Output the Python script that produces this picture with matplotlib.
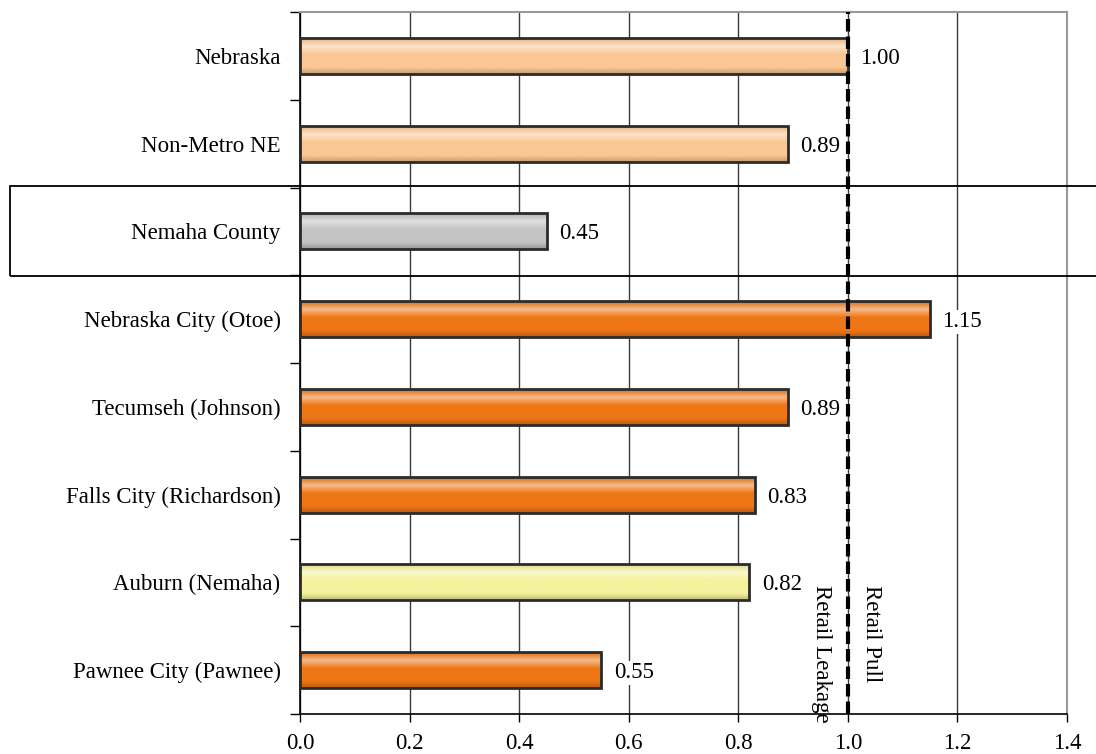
import numpy as np
import matplotlib
matplotlib.use('Agg')
import matplotlib.pyplot as plt
from matplotlib.patches import Rectangle
from matplotlib.colors import LinearSegmentedColormap

# Data, top to bottom as in the chart
places = ['Nebraska', 'Non-Metro NE', 'Nemaha County', 'Nebraska City (Otoe)',
          'Tecumseh (Johnson)', 'Falls City (Richardson)', 'Auburn (Nemaha)',
          'Pawnee City (Pawnee)']
pull_factor = [1.00, 0.89, 0.45, 1.15, 0.89, 0.83, 0.82, 0.55]
bar_colors = ['#FBC794', '#FBC794', '#C4C4C4', '#EF7615', '#EF7615',
              '#EF7615', '#F4F29C', '#EF7615']
x_ticks = [0.0, 0.2, 0.4, 0.6, 0.8, 1.0, 1.2, 1.4]

plt.rcParams['font.family'] = ['Liberation Serif', 'DejaVu Serif']
plt.rcParams['font.size'] = 16.5

fig = plt.figure(figsize=(10.96, 7.54), dpi=100)
ax = fig.add_axes([300 / 1096, 40 / 754, 767 / 1096, 702 / 754])

n = len(places)
ypos = np.arange(n)
bar_h = 0.41


def shade(hex_color):
    # light band near the top, darker towards the bottom edge
    c = np.array(matplotlib.colors.to_rgb(hex_color))
    light = np.clip(c + (1 - c) * 0.5, 0, 1)
    return LinearSegmentedColormap.from_list(
        'g', [(0, c * 0.9), (0.22, light), (0.45, c), (0.82, c), (1, c * 0.78)])


grad = np.linspace(0, 1, 64).reshape(-1, 1)
for y, v, col in zip(ypos, pull_factor, bar_colors):
    ax.imshow(grad, extent=[0, v, y + bar_h / 2, y - bar_h / 2], aspect='auto',
              cmap=shade(col), origin='upper', zorder=2, interpolation='bilinear')
ax.barh(ypos, pull_factor, height=bar_h, facecolor='none', edgecolor='#2b2b2b',
        linewidth=2, zorder=3)

for y, v in zip(ypos, pull_factor):
    ax.annotate(f'{v:.2f}', (v, y), xytext=(9, 0), textcoords='offset points',
                va='center_baseline', ha='left', fontsize=16.5, zorder=4,
                bbox=dict(facecolor='white', edgecolor='none', pad=1))

ax.set_xlim(0, 1.4)
ax.set_ylim(n - 0.5, -0.5)
ax.set_xticks(x_ticks)
ax.set_xticklabels([f'{t:.1f}' for t in x_ticks])
ax.set_yticks(ypos)
ax.set_yticklabels(places)
ax.set_yticks(np.arange(n + 1) - 0.5, minor=True)
ax.tick_params(axis='y', which='major', length=0, pad=14)
ax.tick_params(axis='y', which='minor', length=7, direction='out', width=1)
ax.tick_params(axis='x', length=6, direction='out', width=1, pad=8)

ax.grid(axis='x', color='#3a3a3a', linewidth=1, zorder=1)
ax.set_axisbelow(True)
for s in ['left', 'bottom']:
    ax.spines[s].set_color('black')
    ax.spines[s].set_linewidth(1.2)
for s in ['top', 'right']:
    ax.spines[s].set_color('#999999')
    ax.spines[s].set_linewidth(1.5)

# break-even line
ax.axvline(1.0, color='black', linewidth=3, linestyle=(0, (3, 1.2)), zorder=5)
ax.text(0.952, 6.03, 'Retail Leakage', rotation=-90, va='top', ha='center', fontsize=16.5)
ax.text(1.044, 6.03, 'Retail Pull', rotation=-90, va='top', ha='center', fontsize=16.5)

# box highlighting the county
fig.patches.append(Rectangle((10 / 1096, (754 - 276) / 754), 1.2, 90 / 754,
                             transform=fig.transFigure, fill=False,
                             edgecolor='black', linewidth=1.3, clip_on=False))

fig.savefig('out.png', dpi=100)
